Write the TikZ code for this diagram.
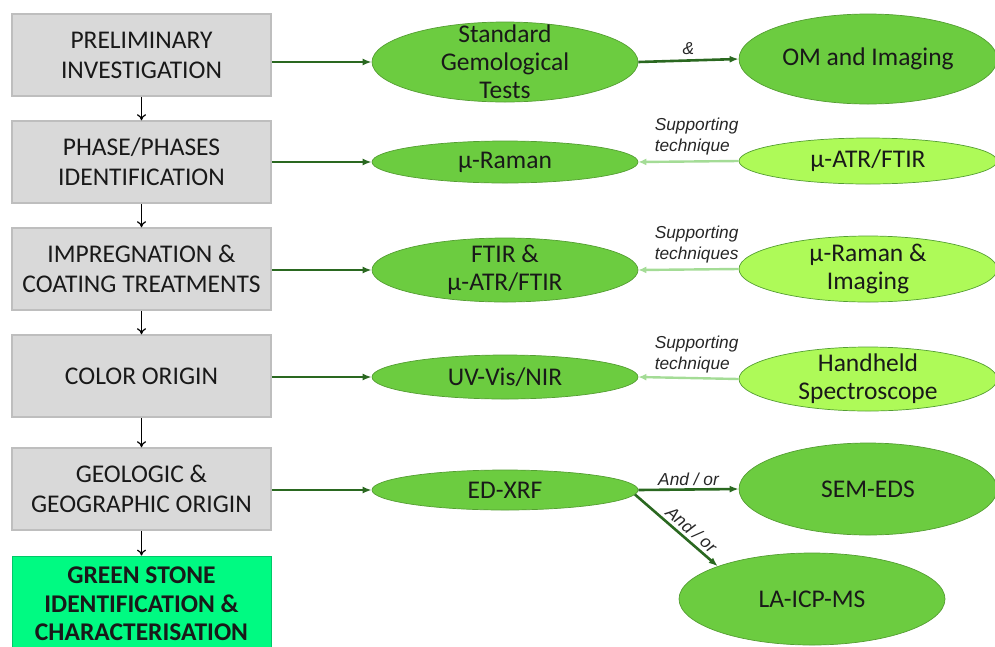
\documentclass[tikz,border=0pt]{standalone}
\usepackage{fontspec}
\setmainfont{Carlito}
\newfontfamily\labfont{Liberation Sans}
\usetikzlibrary{shapes.geometric,arrows.meta}
\definecolor{boxfill}{RGB}{217,217,217}
\definecolor{boxline}{RGB}{190,190,190}
\definecolor{finalfill}{RGB}{0,250,130}
\definecolor{ellA}{RGB}{108,204,64}
\definecolor{ellB}{RGB}{174,250,88}
\definecolor{ellline}{RGB}{84,158,50}
\definecolor{arrA}{RGB}{42,104,32}
\definecolor{arrB}{RGB}{164,220,150}
\begin{document}
\begin{tikzpicture}[x=1pt,y=-1pt,
  stepbox/.style={draw=boxline, line width=1.5pt, fill=boxfill, minimum width=259pt, minimum height=82pt, inner sep=0pt, align=center, font=\fontsize{25.5}{30}\selectfont, text=black!90},
  finalbox/.style={stepbox, draw=finalfill!80!black, line width=0.8pt, fill=finalfill, minimum height=96pt, font=\fontsize{25.5}{28.5}\selectfont\bfseries},
  ellmain/.style={ellipse, draw=ellline, line width=0.7pt, fill=ellA, inner sep=0pt, minimum width=266pt},
  ellside/.style={ellipse, draw=ellline, line width=0.7pt, fill=ellB, inner sep=0pt, minimum width=258pt},
  etext/.style={align=center, font=\fontsize{25.5}{28}\selectfont, text=black!90, inner sep=0pt},
  down/.style={-{To[length=6pt,width=9pt]}, line width=1.2pt, black},
  mainarr/.style={-{Latex[length=9pt,width=7pt]}, line width=2.6pt, draw=arrA},
  suparr/.style={-{Latex[length=8pt,width=7pt]}, line width=2.4pt, draw=arrB},
  lab/.style={font=\labfont\itshape\fontsize{17.3}{21}\selectfont, text=black!85, inner sep=2pt, align=left}
]
\useasboundingbox (0,0) rectangle (995,646);
% left column
\node[stepbox] (b1) at (141.5,55) {PRELIMINARY\\INVESTIGATION};
\node[stepbox] (b2) at (141.5,162) {PHASE/PHASES\\IDENTIFICATION};
\node[stepbox] (b3) at (141.5,269) {IMPREGNATION \&\\COATING TREATMENTS};
\node[stepbox] (b4) at (141.5,376) {COLOR ORIGIN};
\node[stepbox] (b5) at (141.5,489) {GEOLOGIC \&\\GEOGRAPHIC ORIGIN};
\node[finalbox] (b6) at (141.5,604) {GREEN STONE\\IDENTIFICATION \&\\CHARACTERISATION};
\draw[down] (b1.south) -- (b2.north);
\draw[down] (b2.south) -- (b3.north);
\draw[down] (b3.south) -- (b4.north);
\draw[down] (b4.south) -- (b5.north);
\draw[down] (b5.south) -- (b6.north);
% middle ellipses
\node[ellmain, minimum height=80pt] (e1) at (505,62) {};
\node[etext] (t1) at (e1.center) {Standard\\Gemological\\Tests};
\node[ellmain, minimum height=42pt] (e2) at (505,162) {};
\node[etext] (t2) at (e2.center) {µ-Raman};
\node[ellmain, minimum height=64pt] (e3) at (505,270) {};
\node[etext] (t3) at (e3.center) {FTIR \&\\µ-ATR/FTIR};
\node[ellmain, minimum height=44pt] (e4) at (505,377) {};
\node[etext] (t4) at (e4.center) {UV-Vis/NIR};
\node[ellmain, minimum height=40pt] (e5) at (505,490) {};
\node[etext] (t5) at (e5.center) {ED-XRF};
% right ellipses
\node[ellmain, minimum width=258pt, minimum height=90pt] (r1) at (868,59) {};
\node[etext] (u1) at (r1.center) {OM and Imaging};
\node[ellside, minimum height=46pt] (r2) at (868,161) {};
\node[etext] (u2) at (r2.center) {µ-ATR/FTIR};
\node[ellside, minimum height=66pt] (r3) at (868,269) {};
\node[etext] (u3) at (r3.center) {µ-Raman \&\\Imaging};
\node[ellside, minimum height=64pt] (r4) at (868,379) {};
\node[etext] (u4) at (r4.center) {Handheld\\Spectroscope};
\node[ellmain, minimum width=258pt, minimum height=92pt] (r5) at (868,489) {};
\node[etext] (u5) at (r5.center) {SEM-EDS};
\node[ellmain, minimum height=92pt] (r6) at (812,599) {};
\node[etext] (u6) at (r6.center) {LA-ICP-MS};
% connectors
\draw[mainarr] (b1.east |- e1.west) -- (e1.west);
\draw[mainarr] (b2.east |- e2.west) -- (e2.west);
\draw[mainarr] (b3.east |- e3.west) -- (e3.west);
\draw[mainarr] (b4.east |- e4.west) -- (e4.west);
\draw[mainarr] (b5.east |- e5.west) -- (e5.west);
\draw[mainarr] (e1.east) -- node[lab, above=3pt] (l1) {\&} (r1.west);
\draw[suparr] (r2.west) -- node[lab, pos=0, anchor=south east, yshift=3pt, xshift=3pt] (l2) {Supporting\\technique} (e2.east);
\draw[suparr] (r3.west) -- node[lab, pos=0, anchor=south east, yshift=3pt, xshift=3pt] (l3) {Supporting\\techniques} (e3.east);
\draw[suparr] (r4.west) -- node[lab, pos=0, anchor=south east, yshift=3pt, xshift=3pt] (l4) {Supporting\\technique} (e4.east);
\draw[mainarr] (e5.east) -- node[lab, above=1pt] (l5) {And / or} (r5.west);
\draw[mainarr] (e5.-2) -- node[lab, sloped, above=1pt, pos=0.6] (l6) {And / or} (r6.north west);
\end{tikzpicture}
\end{document}
